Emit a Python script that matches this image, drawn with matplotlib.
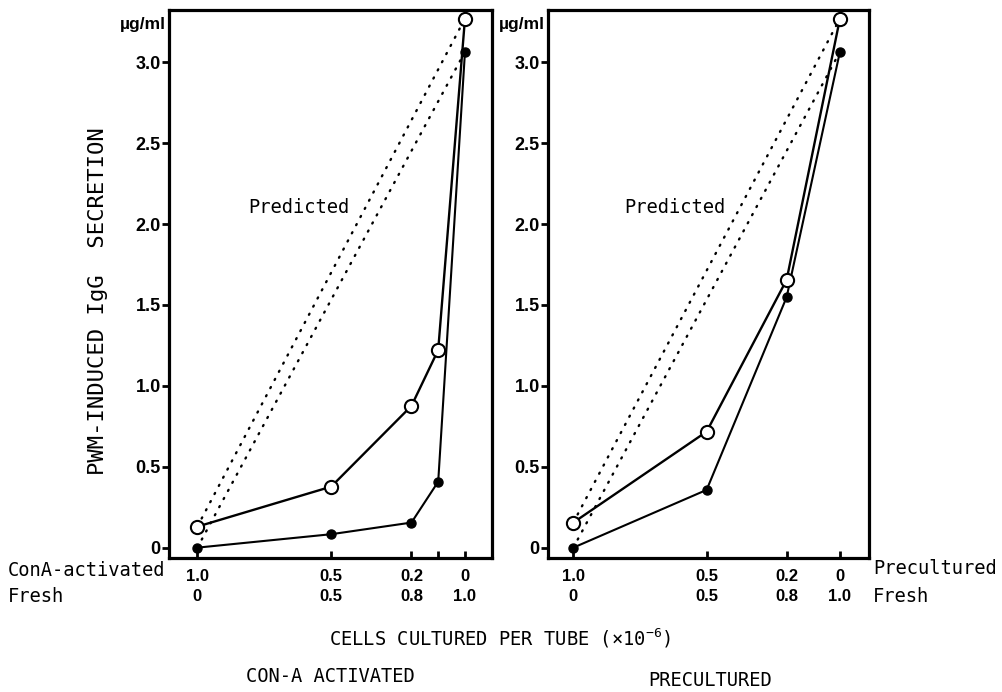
import numpy as np
import matplotlib
matplotlib.use("Agg")
import matplotlib.pyplot as plt
import matplotlib.transforms as mtransforms

plt.rcParams['mathtext.fontset'] = 'custom'
plt.rcParams['mathtext.rm'] = 'DejaVu Sans Mono'

MONO = 'DejaVu Sans Mono'
NUM = ['Liberation Sans Narrow', 'Liberation Sans', 'DejaVu Sans']

# x = fraction of ConA-activated / precultured cells (x10^-6), fresh = 1 - x
cona_x = [1.0, 0.5, 0.2, 0.1, 0.0]
cona_open = [0.13, 0.377, 0.876, 1.222, 3.27]
cona_filled = [0.0, 0.083, 0.155, 0.408, 3.065]

pre_x = [1.0, 0.5, 0.2, 0.0]
pre_open = [0.155, 0.717, 1.655, 3.27]
pre_filled = [0.0, 0.357, 1.548, 3.065]

cona_ticks = [1.0, 0.5, 0.2, 0.1, 0.0]
cona_row1 = ["1.0", "0.5", "0.2", "", "0"]
cona_row2 = ["0", "0.5", "0.8", "", "1.0"]
pre_ticks = [1.0, 0.5, 0.2, 0.0]
pre_row1 = ["1.0", "0.5", "0.2", "0"]
pre_row2 = ["0", "0.5", "0.8", "1.0"]

yticks = [0, 0.5, 1.0, 1.5, 2.0, 2.5, 3.0]
ylabels = ["0", "0.5", "1.0", "1.5", "2.0", "2.5", "3.0"]

fig = plt.figure(figsize=(10.03, 6.92), dpi=100)
ax1 = fig.add_axes([169/1003, 1-558/692, 323/1003, 548/692])
ax2 = fig.add_axes([548/1003, 1-558/692, 321/1003, 548/692])


def panel(ax, x, yo, yf, ticks, row1, row2, xlim):
    # predicted (straight mixing lines)
    ax.plot([x[0], x[-1]], [yo[0], yo[-1]], color='k', lw=1.7,
            dashes=(0.5, 3.4), dash_capstyle='round', zorder=1)
    ax.plot([x[0], x[-1]], [yf[0], yf[-1]], color='k', lw=1.7,
            dashes=(0.5, 3.4), dash_capstyle='round', zorder=1)
    ax.plot(x, yf, '-o', color='k', lw=1.5, ms=6.5, mfc='k', zorder=2)
    ax.plot(x, yo, '-o', color='k', lw=1.7, ms=9.5, mfc='white', mew=1.5,
            zorder=3)
    ax.set_xlim(*xlim)
    ax.set_ylim(-0.064, 3.323)
    for s in ax.spines.values():
        s.set_linewidth(2.3)
    ax.set_xticks(ticks)
    ax.set_xticklabels(row1, fontfamily=NUM, fontweight='bold', fontsize=12)
    ax.tick_params(axis='x', direction='in', length=5, width=2, pad=8)
    ax.set_yticks(yticks)
    ax.set_yticklabels(ylabels, fontfamily=NUM, fontweight='bold', fontsize=13)
    ax.tick_params(axis='y', direction='out', length=5, width=2, pad=1)
    tr = mtransforms.blended_transform_factory(ax.transData, ax.transAxes)
    for t, lab in zip(ticks, row2):
        ax.text(t, -0.071, lab, transform=tr, ha='center', va='center',
                fontfamily=NUM, fontweight='bold', fontsize=12)
    ax.text(-0.01, 0.987, "\u00b5g/ml", transform=ax.transAxes, ha='right',
            va='top', fontfamily=NUM, fontweight='bold', fontsize=12.5)
    ax.text(0.62, 2.10, "Predicted", ha='center', va='center',
            fontfamily=MONO, fontsize=13.5)


panel(ax1, cona_x, cona_open, cona_filled, cona_ticks, cona_row1, cona_row2,
      (1.106, -0.101))
panel(ax2, pre_x, pre_open, pre_filled, pre_ticks, pre_row1, pre_row2,
      (1.095, -0.109))

fig.text(98/1003, 1-301/692, "PWM-INDUCED IgG  SECRETION", rotation=90,
         ha='center', va='center', fontfamily=MONO, fontsize=16)
fig.text(8/1003, 1-571/692, "ConA-activated", ha='left', va='center',
         fontfamily=MONO, fontsize=13.5)
fig.text(8/1003, 1-596/692, "Fresh", ha='left', va='center',
         fontfamily=MONO, fontsize=13.5)
fig.text(873/1003, 1-568/692, "Precultured", ha='left', va='center',
         fontfamily=MONO, fontsize=13.5)
fig.text(873/1003, 1-596/692, "Fresh", ha='left', va='center',
         fontfamily=MONO, fontsize=13.5)
fig.text(500/1003, 1-638/692, "CELLS CULTURED PER TUBE (\u00d710$^{-6}$)",
         ha='center', va='center', fontfamily=MONO, fontsize=13.5)
fig.text(330/1003, 1-677/692, "CON-A ACTIVATED", ha='center', va='center',
         fontfamily=MONO, fontsize=13.5)
fig.text(710/1003, 1-680/692, "PRECULTURED", ha='center', va='center',
         fontfamily=MONO, fontsize=13.5)

fig.savefig("out.png", dpi=100)
